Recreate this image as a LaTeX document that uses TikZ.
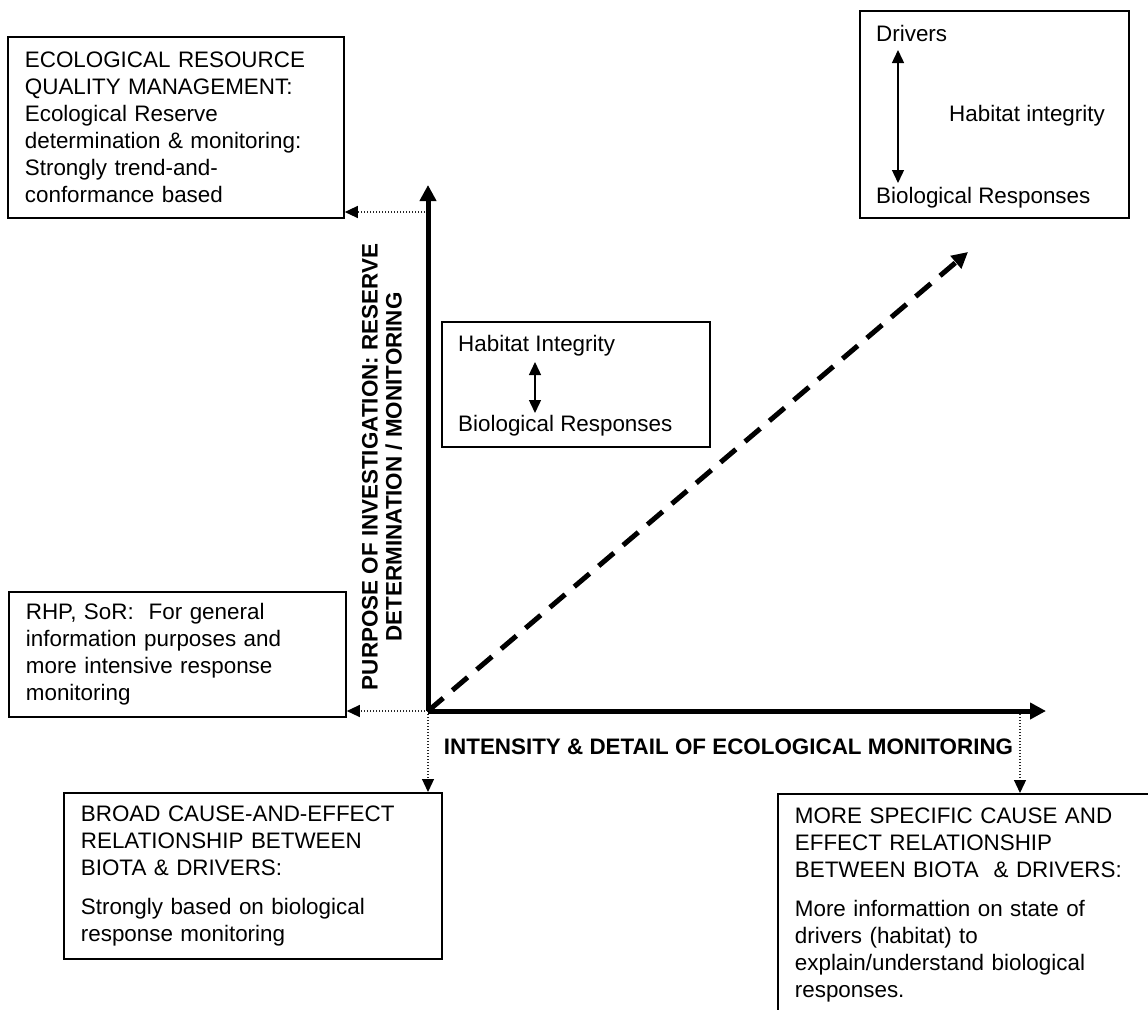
\documentclass[tikz,border=0pt]{standalone}
\usepackage{fontspec}
\setmainfont{Liberation Sans}
\usetikzlibrary{arrows.meta}
\tikzset{
  box/.style = {draw, line width=1.8pt, inner xsep=17pt, align=left, anchor=north west},
  lbl/.style = {inner sep=0pt, anchor=base west},
  axis/.style = {line width=5pt, -{Triangle[length=16pt,width=16pt]}},
  guide/.style = {line width=1.2pt, black!85, dash pattern=on 1pt off 2pt, -{Triangle[length=13pt,width=12pt,black]}},
  dbl/.style = {line width=1.4pt, {Triangle[length=13pt,width=12pt]}-{Triangle[length=13pt,width=12pt]}}
}
\begin{document}
\begin{tikzpicture}[x=1pt, y=-1pt, font=\fontsize{22.4}{27}\selectfont]
    \clip (0,0) rectangle (1148,1009);
    \coordinate (O) at (428,711);
    \coordinate (ytip) at (428,185);
    \coordinate (xtip) at (1046,711);
    \coordinate (dtip) at (968,252);
    \coordinate (ymark) at (428,212);
    \coordinate (xmark) at (1020,711);

    % boxes round the axes
    \node[box, text width=302pt, minimum height=181pt] (erqm) at (7,36)
      {ECOLOGICAL RESOURCE\\QUALITY MANAGEMENT:\\Ecological Reserve\\determination \& monitoring:\\Strongly trend-and-\\conformance based};
    \node[box, text width=303pt, minimum height=125pt] (rhp) at (8,591)
      {RHP, SoR:\ \ For general\\information purposes and\\more intensive response\\monitoring};
    \node[box, text width=344pt, minimum height=166pt] (broad) at (63,792)
      {BROAD CAUSE-AND-EFFECT\\RELATIONSHIP BETWEEN\\BIOTA \& DRIVERS:\\[12.5pt]Strongly based on biological\\response monitoring};
    \node[box, text width=380pt, inner ysep=14pt] (spec) at (777,793)
      {MORE SPECIFIC CAUSE AND\\EFFECT RELATIONSHIP\\BETWEEN BIOTA\ \ \& DRIVERS:\\[12pt]More informattion on state of\\drivers (habitat) to\\explain/understand biological\\responses.};

    % habitat boxes
    \node[box, minimum width=268pt, minimum height=125pt] (mid) at (441,321) {};
    \node[lbl] (midhab) at (458,351) {Habitat Integrity};
    \node[lbl] (midbio) at (458,431) {Biological Responses};
    \draw[dbl] ([xshift=77pt,yshift=-11pt]midhab.base west) -- ([xshift=77pt,yshift=18pt]midbio.base west);

    \node[box, minimum width=269pt, minimum height=207pt] (drbox) at (859,10) {};
    \node[lbl] (drv) at (876,41) {Drivers};
    \node[lbl] (drbio) at (876,203) {Biological Responses};
    \node[lbl] (drhab) at (949,121) {Habitat integrity};
    \draw[dbl] ([xshift=22pt,yshift=-9pt]drv.base west) -- ([xshift=22pt,yshift=20pt]drbio.base west);

    % dotted guides
    \draw[guide] (ymark) -- (ymark -| erqm.east);
    \draw[guide] (O) -- (O -| rhp.east);
    \draw[guide] (O) -- (O |- broad.north);
    \draw[guide] (xmark) -- (xmark |- spec.north);

    % axes
    \draw[axis] (O) -- (ytip);
    \draw[axis] (O) -- (xtip);
    \draw[axis, dash pattern=on 20pt off 12pt] (O) -- (dtip);

    \node[inner sep=0pt, font=\fontsize{22.4}{27}\selectfont\bfseries] (xlab) at (728.5,747)
      {INTENSITY \& DETAIL OF ECOLOGICAL MONITORING};
    \node[inner sep=0pt, rotate=90, align=center, font=\fontsize{22.4}{24}\selectfont\bfseries] (ylab) at (382,467)
      {PURPOSE OF INVESTIGATION: RESERVE\\DETERMINATION / MONITORING};
\end{tikzpicture}
\end{document}
